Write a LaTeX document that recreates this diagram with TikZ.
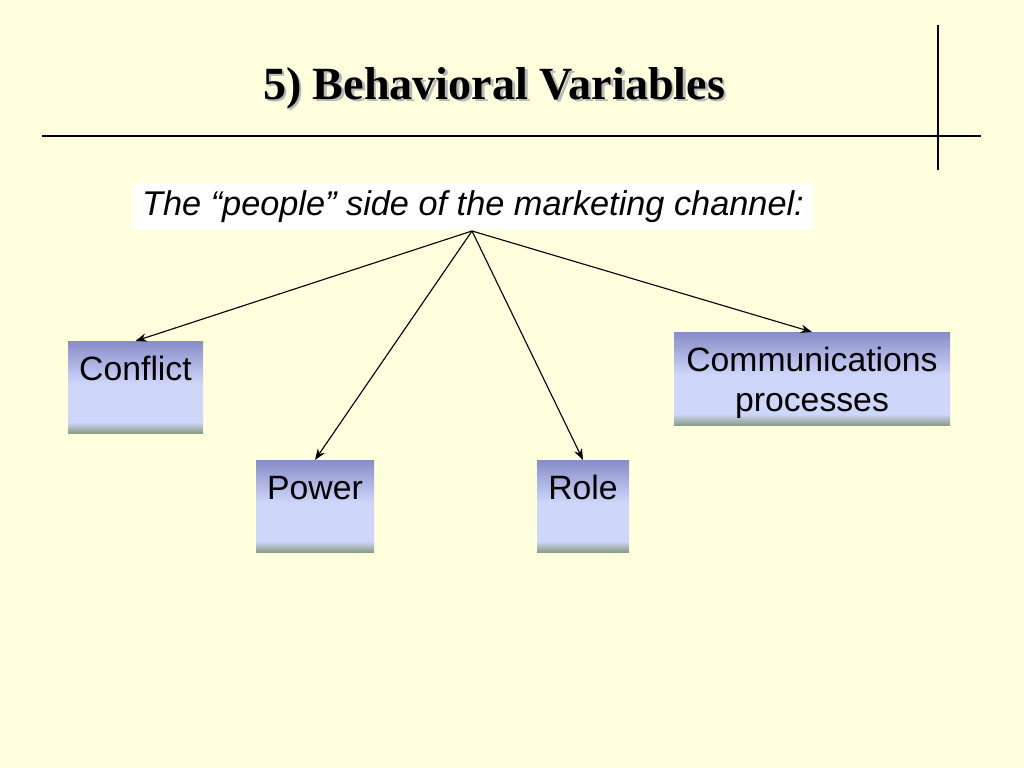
\documentclass[tikz,border=0pt]{standalone}
\usepackage{fontspec}
\setmainfont{Liberation Sans}
\newfontfamily\titlefont{Liberation Serif}
\usetikzlibrary{calc}
\usetikzlibrary{arrows.meta}
\definecolor{bgyellow}{RGB}{255,255,221}
\definecolor{boxtop}{RGB}{136,140,200}
\definecolor{boxmid}{RGB}{206,214,250}
\definecolor{boxbot}{RGB}{138,156,134}
\pgfdeclareverticalshading{boxshade}{100bp}{color(0bp)=(boxbot); color(25bp)=(boxbot); color(31bp)=(boxmid); color(52bp)=(boxmid); color(75bp)=(boxtop); color(100bp)=(boxtop)}

\begin{document}
\begin{tikzpicture}[
  titletext/.style={font=\titlefont\bfseries\fontsize{32.8}{39}\selectfont, anchor=base},
  varbox/.style={shading=boxshade, inner sep=0pt, anchor=north, align=center,
    text height=0.97cm, text depth=1.33cm, font=\fontsize{24}{28.5}\selectfont},
  link/.style={black, line width=0.8pt, -{Stealth[length=8pt,width=6pt]}}
]

\fill[bgyellow] (0,0) rectangle (25.6,19.2);
\useasboundingbox (0,0) rectangle (25.6,19.2);

\coordinate (titlepos) at (12.35,16.72);
\coordinate (apex) at (11.8,13.425);

% heading and rules
\node[titletext, gray!55] (titleshadow) at ($(titlepos)+(0.07,-0.07)$) {5) Behavioral Variables};
\node[titletext] (title) at (titlepos) {5) Behavioral Variables};
\draw[black, line width=0.8pt] (1.05,15.8) -- (24.525,15.8);
\draw[black, line width=0.8pt] (23.45,18.575) -- (23.45,14.95);

\node[fill=white, minimum width=17cm, inner sep=0pt, anchor=north,
  text height=0.8cm, text depth=0.37cm,
  font=\itshape\fontsize{24.4}{29}\selectfont] (side) at (11.825,14.625)
  {The “people” side of the marketing channel:};

% the four variables
\node[varbox, minimum width=3.375cm] (conflict) at (3.3875,10.675) {Conflict};
\node[varbox, minimum width=2.95cm] (power) at (7.875,7.7) {Power};
\node[varbox, minimum width=2.3cm] (role) at (14.575,7.7) {Role};
\node[varbox, minimum width=6.9cm, text height=1.97cm, text depth=0.355cm] (comm) at (20.3,10.9) {Communications\\processes};

\draw[link] (apex) -- (conflict.north);
\draw[link] (apex) -- (power.north);
\draw[link] (apex) -- (role.north);
\draw[link] (apex) -- (comm.north);

\end{tikzpicture}
\end{document}
